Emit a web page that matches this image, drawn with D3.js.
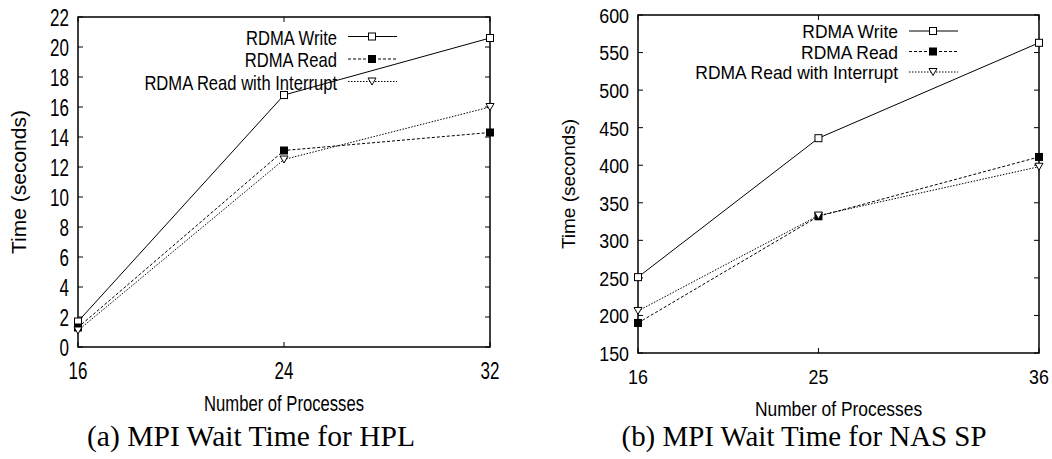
<!DOCTYPE html>
<html>
<head>
<meta charset="utf-8">
<script src="https://cdn.jsdelivr.net/npm/d3@7"></script>
<style>
  body { margin: 0; background: #fff; }
  svg { display: block; }
  text { font-family: "Liberation Sans", Arial, sans-serif; fill: #000; }
</style>
</head>
<body>
<svg id="chart" width="1052" height="459"></svg>
<script>
// series names (legend order)
var seriesNames = ["RDMA Write", "RDMA Read", "RDMA Read with Interrupt"];

// (a) HPL
var hplProcs = [16, 24, 32];
var hplWrite = [1.7, 16.8, 20.6];
var hplRead = [1.3, 13.1, 14.3];
var hplReadInt = [1.1, 12.5, 16.0];
var hplYTicks = [0, 2, 4, 6, 8, 10, 12, 14, 16, 18, 20, 22];

// (b) NAS SP
var spProcs = [16, 25, 36];
var spWrite = [251, 436, 563];
var spRead = [190, 332, 411];
var spReadInt = [206, 333, 398];
var spYTicks = [150, 200, 250, 300, 350, 400, 450, 500, 550, 600];

var svg = d3.select("#chart");

// line style + marker per series
var styles = [
	{ dash: null, marker: "openSquare" },
	{ dash: "3,2", marker: "filledSquare" },
	{ dash: "1.5,1.5", marker: "triangle" }
];

function drawMarker(g, type, x, y) {
	if (type == "openSquare") {
		g.append("rect").attr("x", x - 3.5).attr("y", y - 3.5)
			.attr("width", 7).attr("height", 7)
			.attr("fill", "#fff").attr("stroke", "#000").attr("stroke-width", 1);
	} else if (type == "filledSquare") {
		g.append("rect").attr("x", x - 4).attr("y", y - 4)
			.attr("width", 8).attr("height", 8)
			.attr("fill", "#000");
	} else {
		g.append("path")
			.attr("d", "M" + (x - 4) + "," + (y - 3.5) + "L" + (x + 4) + "," + (y - 3.5) + "L" + x + "," + (y + 3.5) + "Z")
			.attr("fill", "#fff").attr("stroke", "#000").attr("stroke-width", 1);
	}
}

// text squeezed horizontally, like the scaled eps
function squeezed(g, x, y, str, size, sx, anchor) {
	g.append("text")
		.attr("transform", "translate(" + x + "," + y + ") scale(" + sx + ",1)")
		.attr("text-anchor", anchor)
		.attr("dominant-baseline", "central")
		.style("font-size", size + "px")
		.text(str);
}

function drawPanel(p) {
	var g = svg.append("g");

	var x = d3.scaleLinear().domain([p.procs[0], p.procs[p.procs.length - 1]]).range([p.left, p.right]);
	var y = d3.scaleLinear().domain([p.yTicks[0], p.yTicks[p.yTicks.length - 1]]).range([p.bottom, p.top]);

	// inner ticks on all four sides
	var tl = 5;
	p.yTicks.forEach(function(t) {
		g.append("line").attr("x1", p.left).attr("x2", p.left + tl).attr("y1", y(t)).attr("y2", y(t))
			.attr("stroke", "#000");
		g.append("line").attr("x1", p.right).attr("x2", p.right - tl).attr("y1", y(t)).attr("y2", y(t))
			.attr("stroke", "#000");
		squeezed(g, p.left - 9, y(t) + 1, t, p.tickSize, p.sx, "end");
	});
	p.procs.forEach(function(t) {
		g.append("line").attr("x1", x(t)).attr("x2", x(t)).attr("y1", p.bottom).attr("y2", p.bottom - tl)
			.attr("stroke", "#000");
		g.append("line").attr("x1", x(t)).attr("x2", x(t)).attr("y1", p.top).attr("y2", p.top + tl)
			.attr("stroke", "#000");
		squeezed(g, x(t), p.bottom + 24, t, p.tickSize, p.sx, "middle");
	});

	// frame
	g.append("rect").attr("x", p.left).attr("y", p.top)
		.attr("width", p.right - p.left).attr("height", p.bottom - p.top)
		.attr("fill", "none").attr("stroke", "#000").attr("stroke-width", 1.5);

	// series
	var line = d3.line().x(function(d) { return x(d[0]); }).y(function(d) { return y(d[1]); });
	p.series.forEach(function(vals, i) {
		var pts = p.procs.map(function(pr, j) { return [pr, vals[j]]; });
		g.append("path").attr("d", line(pts))
			.attr("fill", "none").attr("stroke", "#000").attr("stroke-width", 1)
			.attr("stroke-dasharray", styles[i].dash);
		pts.forEach(function(d) { drawMarker(g, styles[i].marker, x(d[0]), y(d[1])); });
	});

	// legend
	seriesNames.forEach(function(name, i) {
		var ly = p.legTop + i * p.legStep;
		squeezed(g, p.legX, ly + 1, name, p.legSize, p.legSx, "end");
		g.append("line").attr("x1", p.legX + 11).attr("x2", p.legX + 60).attr("y1", ly).attr("y2", ly)
			.attr("stroke", "#000").attr("stroke-width", 1)
			.attr("stroke-dasharray", styles[i].dash);
		drawMarker(g, styles[i].marker, p.legX + 35, ly);
	});

	// axis titles
	squeezed(g, (p.left + p.right) / 2, p.bottom + 56, "Number of Processes", p.titleSize, p.sx, "middle");
	g.append("text")
		.attr("transform", "translate(" + p.yTitleX + "," + (p.top + p.bottom) / 2 + ") rotate(-90)")
		.attr("text-anchor", "middle")
		.attr("dominant-baseline", "central")
		.style("font-size", p.yTitleSize + "px")
		.text("Time (seconds)");

	// caption
	g.append("text")
		.attr("x", p.capX).attr("y", 436)
		.attr("text-anchor", "middle")
		.attr("dominant-baseline", "central")
		.attr("textLength", p.capW).attr("lengthAdjust", "spacingAndGlyphs")
		.style("font-family", "'Liberation Serif', serif")
		.style("font-size", "29px")
		.text(p.caption);
}

drawPanel({
	procs: hplProcs, yTicks: hplYTicks,
	series: [hplWrite, hplRead, hplReadInt],
	left: 78, right: 490, top: 17, bottom: 347,
	sx: 0.74, tickSize: 23, titleSize: 22.5, yTitleSize: 21,
	legSize: 20, legSx: 0.83,
	legX: 337, legTop: 36.5, legStep: 22.5,
	yTitleX: 18,
	caption: "(a) MPI Wait Time for HPL", capX: 251, capW: 328
});

drawPanel({
	procs: spProcs, yTicks: spYTicks,
	series: [spWrite, spRead, spReadInt],
	left: 638, right: 1039, top: 15, bottom: 353,
	sx: 0.87, tickSize: 20.5, titleSize: 20, yTitleSize: 19,
	legSize: 18, legSx: 0.97,
	legX: 898, legTop: 31, legStep: 20.5,
	yTitleX: 568,
	caption: "(b) MPI Wait Time for NAS SP", capX: 804, capW: 365
});
</script>
</body>
</html>
